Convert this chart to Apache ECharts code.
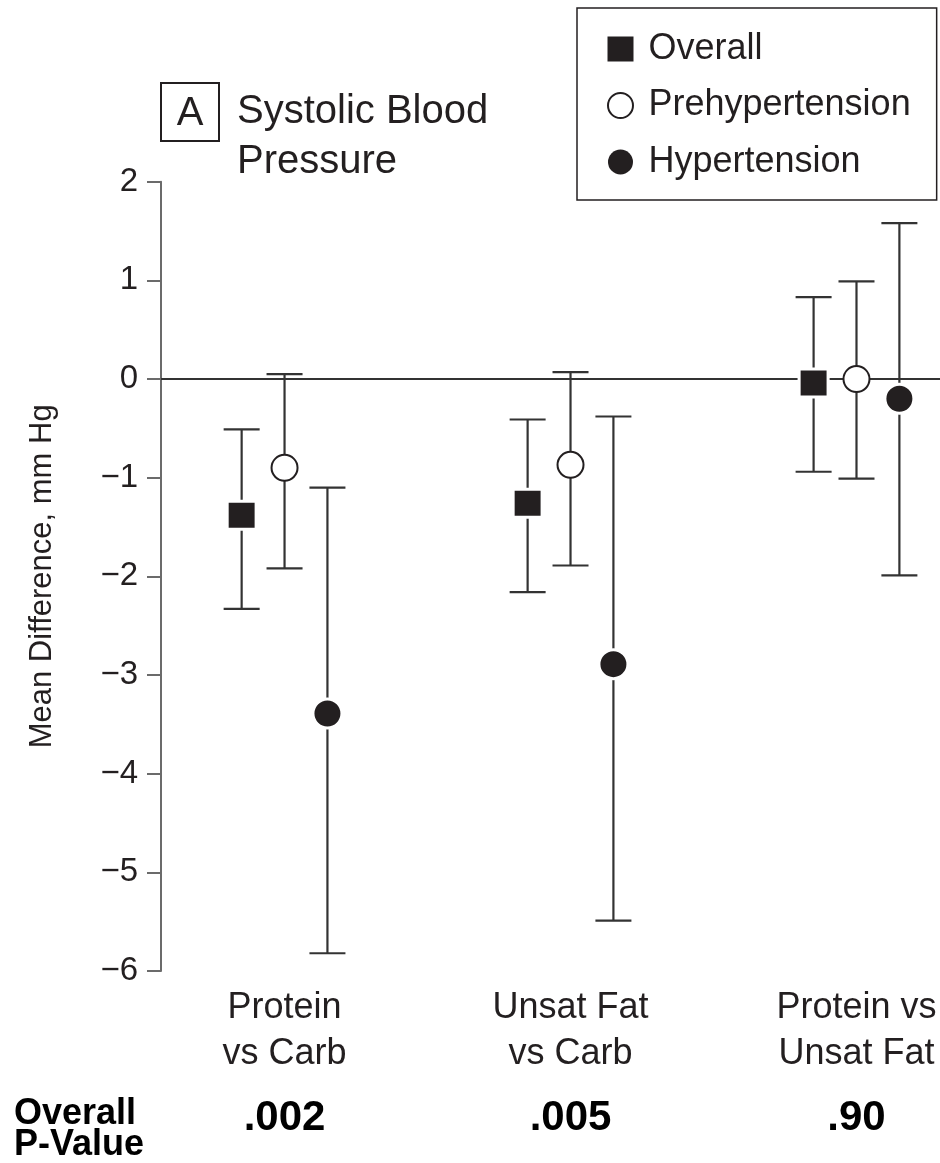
<!DOCTYPE html>
<html>
<head>
<meta charset="utf-8">
<title>Systolic Blood Pressure – Mean Difference</title>
<script src="https://cdn.jsdelivr.net/npm/echarts@6/dist/echarts.min.js"></script>
<style>
  html, body { margin: 0; padding: 0; background: #fff; }
  #chart { width: 940px; height: 1163px; }
</style>
</head>
<body>
<div id="chart"></div>
<script>
// Diet comparisons shown along the x axis
const categories = ['Protein\nvs Carb', 'Unsat Fat\nvs Carb', 'Protein vs\nUnsat Fat'];
// Overall P-values printed under each comparison
const pValues = ['.002', '.005', '.90'];
// Y axis range and step (mm Hg)
const yMin = -6, yMax = 2, yStep = 1;

// Mean difference and 95% CI bounds, one entry per comparison
const groupNames = ['Overall', 'Prehypertension', 'Hypertension'];
const overallMean = [-1.38, -1.26, -0.04];
const overallLow  = [-2.33, -2.16, -0.94];
const overallHigh = [-0.51, -0.41, 0.83];
const prehypMean  = [-0.90, -0.87, 0.00];
const prehypLow   = [-1.92, -1.89, -1.01];
const prehypHigh  = [0.05, 0.07, 0.99];
const hyperMean   = [-3.39, -2.89, -0.20];
const hyperLow    = [-5.82, -5.49, -1.99];
const hyperHigh   = [-1.10, -0.38, 1.58];

// Horizontal dodge of each group within a comparison (in category units)
const dodge = [-0.15, 0, 0.15];

const means = [overallMean, prehypMean, hyperMean];
const lows = [overallLow, prehypLow, hyperLow];
const highs = [overallHigh, prehypHigh, hyperHigh];

const INK = '#231f20';
const LINE = '#333333';
const FONT = '"Liberation Sans", Arial, Helvetica, sans-serif';

const xMin = -0.432, xMax = 2.292;

// Error-bar rows: [x, low, high]
const errorData = [];
for (let s = 0; s < 3; s++) {
  for (let g = 0; g < categories.length; g++) {
    errorData.push([g + dodge[s], lows[s][g], highs[s][g]]);
  }
}

function pointData(s) {
  return means[s].map((v, g) => [g + dodge[s], v]);
}

function renderErrorBar(params, api) {
  const x = api.value(0);
  const top = api.coord([x, api.value(2)]);
  const bot = api.coord([x, api.value(1)]);
  const half = 18;
  const style = { stroke: LINE, lineWidth: 2.2 };
  return {
    type: 'group',
    children: [
      { type: 'line', shape: { x1: top[0], y1: top[1], x2: bot[0], y2: bot[1] }, style },
      { type: 'line', shape: { x1: top[0] - half, y1: top[1], x2: top[0] + half, y2: top[1] }, style },
      { type: 'line', shape: { x1: bot[0] - half, y1: bot[1], x2: bot[0] + half, y2: bot[1] }, style }
    ]
  };
}

const chart = echarts.init(document.getElementById('chart'), null, { renderer: 'canvas' });

chart.setOption({
  backgroundColor: '#ffffff',
  animation: false,
  textStyle: { fontFamily: FONT, color: INK },
  grid: { left: 161, right: 0, top: 181.7, bottom: 192, containLabel: false, outerBoundsMode: 'none' },
  legend: {
    orient: 'vertical',
    left: 577,
    top: 8,
    padding: [23, 26, 20, 30],
    borderColor: INK,
    borderWidth: 1.5,
    itemWidth: 26,
    itemHeight: 25,
    itemGap: 20.5,
    selectedMode: false,
    textStyle: { fontFamily: FONT, fontSize: 36, lineHeight: 36, color: INK, padding: [0, 0, 0, 10] },
    data: [
      { name: groupNames[0], icon: 'rect', itemStyle: { color: INK, borderWidth: 0 } },
      { name: groupNames[1], icon: 'circle', itemStyle: { color: '#fff', borderColor: INK, borderWidth: 2 } },
      { name: groupNames[2], icon: 'circle', itemStyle: { color: INK, borderWidth: 0 } }
    ]
  },
  xAxis: [
    {
      type: 'value',
      min: xMin,
      max: xMax,
      axisLine: { show: false, onZero: false },
      axisTick: { show: false },
      splitLine: { show: false },
      axisLabel: {
        customValues: [0, 1, 2],
        formatter: v => categories[Math.round(v)],
        fontFamily: FONT,
        fontSize: 36,
        lineHeight: 46,
        color: INK,
        margin: 14
      }
    },
    {
      type: 'value',
      min: xMin,
      max: xMax,
      position: 'bottom',
      offset: 110,
      axisLine: { show: false, onZero: false },
      axisTick: { show: false },
      splitLine: { show: false },
      axisLabel: {
        customValues: [0, 1, 2],
        formatter: v => pValues[Math.round(v)],
        fontFamily: FONT,
        fontWeight: 'bold',
        fontSize: 42,
        lineHeight: 42,
        color: '#000',
        margin: 16
      }
    }
  ],
  yAxis: {
    type: 'value',
    min: yMin,
    max: yMax,
    interval: yStep,
    name: 'Mean Difference, mm Hg',
    nameLocation: 'middle',
    nameRotate: 90,
    nameGap: 103,
    nameTextStyle: { fontFamily: FONT, fontSize: 31, color: INK },
    axisLine: { show: true, onZero: false, lineStyle: { color: '#6b6b6b', width: 2 } },
    axisTick: { show: true, length: 14, lineStyle: { color: '#6b6b6b', width: 2 } },
    splitLine: { show: false },
    axisLabel: {
      margin: 23,
      fontFamily: FONT,
      fontSize: 33,
      color: INK,
      formatter: v => (v < 0 ? '\u2212' + Math.abs(v) : String(v))
    }
  },
  graphic: [
    {
      type: 'rect',
      shape: { x: 161, y: 83, width: 58, height: 58 },
      style: { fill: 'none', stroke: INK, lineWidth: 2 }
    },
    {
      type: 'text',
      x: 190, y: 114,
      style: { text: 'A', font: '40px ' + FONT, fill: INK, align: 'center', verticalAlign: 'middle' }
    },
    {
      type: 'text',
      x: 237, y: 87.6,
      style: { text: 'Systolic Blood\nPressure', font: '40px ' + FONT, lineHeight: 49.4, fill: INK, align: 'left', verticalAlign: 'top' }
    },
    {
      type: 'text',
      x: 14, y: 1099,
      style: { text: 'Overall\nP-Value', font: 'bold 36px ' + FONT, lineHeight: 31, fill: '#000', align: 'left', verticalAlign: 'top' }
    }
  ],
  series: [
    {
      type: 'custom',
      name: 'CI',
      renderItem: renderErrorBar,
      data: errorData,
      encode: { x: 0, y: [1, 2] },
      z: 2,
      silent: true,
      markLine: {
        silent: true,
        symbol: 'none',
        label: { show: false },
        lineStyle: { color: LINE, width: 2, type: 'solid' },
        data: [{ yAxis: 0 }]
      }
    },
    {
      type: 'scatter',
      name: groupNames[0],
      data: pointData(0),
      symbol: 'rect',
      symbolSize: [29, 28],
      itemStyle: { color: INK, borderColor: '#fff', borderWidth: 3, opacity: 1 },
      z: 5
    },
    {
      type: 'scatter',
      name: groupNames[1],
      data: pointData(1),
      symbol: 'circle',
      symbolSize: 26,
      itemStyle: { color: '#fff', borderColor: INK, borderWidth: 2, opacity: 1 },
      z: 5
    },
    {
      type: 'scatter',
      name: groupNames[2],
      data: pointData(2),
      symbol: 'circle',
      symbolSize: 29,
      itemStyle: { color: INK, borderColor: '#fff', borderWidth: 3, opacity: 1 },
      z: 5
    }
  ]
});
</script>
</body>
</html>
